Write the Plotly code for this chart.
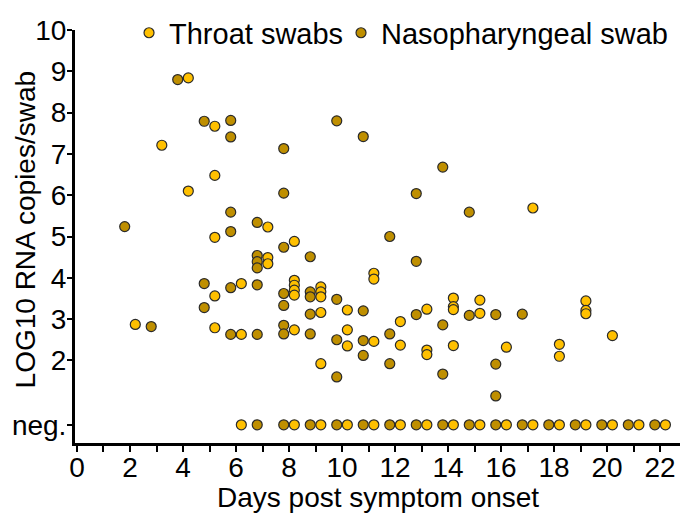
import plotly.graph_objects as go

# ---- data ("neg" = negative sample) ----
np_days = [2, 3, 4, 5, 5, 5, 6, 6, 6, 6, 6, 6, 7, 7, 7, 7, 7, 7, 7,
           8, 8, 8, 8, 8, 8, 8, 8, 9, 9, 9, 9, 9, 9, 10, 10, 10, 10, 10,
           11, 11, 11, 11, 11, 12, 12, 12, 12, 13, 13, 13, 13, 14, 14, 14, 14,
           15, 15, 15, 16, 16, 16, 16, 17, 17, 18, 19, 20, 21, 22]
np_values = [5.24, 2.82, 8.80, 7.79, 3.86, 3.28, 7.81, 7.41, 5.59, 5.12, 3.76, 2.63,
             5.34, 4.54, 4.39, 4.24, 3.83, 2.63, "neg",
             7.13, 6.05, 4.74, 3.62, 3.33, 2.85, 2.64, "neg",
             4.51, 3.66, 3.54, 3.12, 2.64, "neg",
             7.80, 3.48, 2.50, 1.60, "neg",
             7.42, 3.20, 2.48, 2.12, "neg",
             5.00, 2.64, 1.92, "neg",
             6.04, 4.40, 3.11, "neg",
             6.68, 2.86, 1.67, "neg",
             5.59, 3.09, "neg",
             3.11, 1.91, 1.14, "neg",
             3.12, "neg", "neg", "neg", "neg", "neg", "neg"]

throat_days = [2, 3, 4, 4, 5, 5, 5, 5, 5, 6, 6, 6, 7, 7, 7,
               8, 8, 8, 8, 8, 8, 8, 9, 9, 9, 9, 9, 9, 10, 10, 10, 10,
               11, 11, 11, 11, 12, 12, 12, 13, 13, 13, 13, 14, 14, 14, 14, 14,
               15, 15, 15, 16, 16, 17, 17, 18, 18, 18, 19, 19, 19, 19, 20, 20, 21, 22]
throat_values = [2.87, 7.21, 8.84, 6.10, 7.67, 6.48, 4.98, 3.56, 2.79, 3.86, 2.63, "neg",
                 5.23, 4.49, 4.34,
                 4.88, 3.94, 3.82, 3.70, 3.58, 2.74, "neg",
                 3.78, 3.66, 3.54, 3.16, 1.92, "neg",
                 3.22, 2.74, 2.35, "neg",
                 4.11, 3.97, 2.46, "neg",
                 2.94, 2.37, "neg",
                 3.24, 2.25, 2.14, "neg",
                 3.51, 3.30, 3.23, 2.36, "neg",
                 3.46, 3.14, "neg",
                 2.32, "neg",
                 5.69, "neg",
                 2.39, 2.10, "neg",
                 3.44, 3.21, 3.13, "neg",
                 2.60, "neg", "neg", "neg"]

x_tick_vals = list(range(0, 23))
x_tick_text = [str(d) if d % 2 == 0 else "" for d in x_tick_vals]
y_tick_vals = [2, 3, 4, 5, 6, 7, 8, 9, 10]
y_tick_text = [str(v) for v in y_tick_vals]
neg_label = "neg."
x_title = "Days post symptom onset"
y_title = "LOG10 RNA copies/swab"

# ---- layout constants ----
NEG_Y = 0.44
DODGE = 0.2
FONT = "Liberation Sans, Arial, sans-serif"
THROAT_COLOR = "#FFC000"
NP_COLOR = "#BF8F00"
EDGE = "#2a2a2a"


def ypos(vals):
    return [NEG_Y if v == "neg" else v for v in vals]


fig = go.Figure()
fig.add_trace(go.Scatter(
    x=[d - DODGE for d in np_days], y=ypos(np_values),
    mode="markers", name="Nasopharyngeal swab", legend="legend2",
    marker=dict(size=10, color=NP_COLOR, line=dict(color=EDGE, width=1.2)),
))
fig.add_trace(go.Scatter(
    x=[d + DODGE for d in throat_days], y=ypos(throat_values),
    mode="markers", name="Throat swabs", legend="legend",
    marker=dict(size=10, color=THROAT_COLOR, line=dict(color=EDGE, width=1.2)),
))

legend_style = dict(orientation="h", y=0.993, xanchor="left", yanchor="middle",
                    font=dict(size=29, family=FONT), bgcolor="rgba(0,0,0,0)", borderwidth=0)

# the page body adds an 8px offset; the figure is sized to fill the rest of the window
fig.update_layout(
    width=680, height=506,
    margin=dict(l=67, r=8, t=22, b=71, autoexpand=False),
    paper_bgcolor="white", plot_bgcolor="white",
    font=dict(family=FONT, color="black"),
    showlegend=True,
    legend=dict(x=0.0893, **legend_style),
    legend2=dict(x=0.4397, **legend_style),
    xaxis=dict(range=[-0.075, 22.75], tickvals=x_tick_vals, ticktext=x_tick_text,
               showline=True, linecolor="black", linewidth=3, ticks="outside",
               ticklen=6, tickwidth=2, tickcolor="black", showgrid=False, zeroline=False,
               tickfont=dict(size=28, family=FONT), ticklabelstandoff=-9,
               automargin=False),
    yaxis=dict(range=[0, 10], tickvals=y_tick_vals + [NEG_Y], ticktext=y_tick_text + [neg_label],
               showline=True, linecolor="black", linewidth=3, ticks="outside",
               ticklen=5, tickwidth=2, tickcolor="black", showgrid=False, zeroline=False,
               tickfont=dict(size=28, family=FONT), ticklabelstandoff=-5,
               automargin=False),
    annotations=[
        dict(text=x_title, xref="paper", yref="paper", x=0.5, y=-0.1308,
             xanchor="center", yanchor="middle", showarrow=False,
             font=dict(size=28, family=FONT)),
        dict(text=y_title, xref="paper", yref="paper", x=-0.0818, y=0.516,
             xanchor="center", yanchor="middle", textangle=-90, showarrow=False,
             font=dict(size=28, family=FONT)),
    ],
)

fig.write_html("out.html")
